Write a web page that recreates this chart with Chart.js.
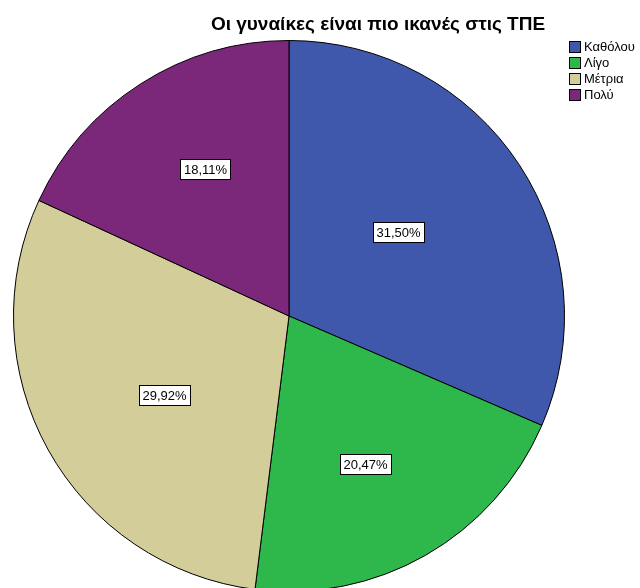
<!DOCTYPE html>
<html lang="el">
<head>
<meta charset="utf-8">
<title>Οι γυναίκες είναι πιο ικανές στις ΤΠΕ</title>
<script src="https://cdn.jsdelivr.net/npm/chart.js@4.4.1/dist/chart.umd.min.js"></script>
<style>
  html, body { margin: 0; padding: 0; background: #fff; overflow: hidden; }
  #wrap { position: absolute; left: 0; top: 0; width: 640px; height: 600px; }
</style>
</head>
<body>
<div id="wrap"><canvas id="pie" width="640" height="600"></canvas></div>
<script>
// answer categories and their share of respondents (%)
const categories = ['Καθόλου', 'Λίγο', 'Μέτρια', 'Πολύ'];
const percents = [31.50, 20.47, 29.92, 18.11];
const sliceColors = ['#3f58ab', '#2eb84c', '#d3ce99', '#7b287b'];
const chartTitle = 'Οι γυναίκες είναι πιο ικανές στις ΤΠΕ';

const FONT = '"Liberation Sans", Arial, sans-serif';

// boxed percentage labels inside each slice, SPSS style
const sliceLabels = {
  id: 'sliceLabels',
  afterDatasetsDraw(chart, args, opts) {
    const ctx = chart.ctx;
    const meta = chart.getDatasetMeta(0);
    ctx.save();
    ctx.font = '13px ' + FONT;
    ctx.textAlign = 'center';
    ctx.textBaseline = 'middle';
    meta.data.forEach((arc, i) => {
      const p = arc.getProps(['x', 'y', 'startAngle', 'endAngle', 'outerRadius'], true);
      const mid = (p.startAngle + p.endAngle) / 2 + opts.turn[i] * Math.PI / 180;
      const r = p.outerRadius * opts.radius[i];
      const x = Math.round(p.x + Math.cos(mid) * r);
      const y = Math.round(p.y + Math.sin(mid) * r);
      const text = percents[i].toFixed(2).replace('.', ',') + '%';
      const w = Math.ceil(ctx.measureText(text).width) + 6;
      const h = 20;
      const bx = Math.round(x - w / 2), by = Math.round(y - h / 2);
      ctx.fillStyle = '#fff';
      ctx.fillRect(bx, by, w, h);
      ctx.strokeStyle = '#000';
      ctx.lineWidth = 1;
      ctx.strokeRect(bx + 0.5, by + 0.5, w, h);
      ctx.fillStyle = '#000';
      ctx.fillText(text, x + 0.5, y + 1.5);
    });
    ctx.restore();
  }
};

// title and small square legend at the top right
const heading = {
  id: 'heading',
  afterDraw(chart) {
    const ctx = chart.ctx;
    ctx.save();
    ctx.fillStyle = '#000';
    ctx.font = 'bold 19px ' + FONT;
    ctx.textAlign = 'center';
    ctx.textBaseline = 'middle';
    ctx.fillText(chartTitle, 378, 25);

    ctx.font = '13px ' + FONT;
    ctx.textAlign = 'left';
    categories.forEach((name, i) => {
      const y = 42 + i * 16;
      ctx.fillStyle = sliceColors[i];
      ctx.fillRect(570, y, 10, 10);
      ctx.strokeStyle = '#000';
      ctx.lineWidth = 1;
      ctx.strokeRect(569.5, y - 0.5, 11, 11);
      ctx.fillStyle = '#000';
      ctx.fillText(name, 584, y + 5.5);
    });
    ctx.restore();
  }
};

new Chart(document.getElementById('pie'), {
  type: 'pie',
  data: {
    labels: categories,
    datasets: [{
      data: percents,
      backgroundColor: sliceColors,
      borderColor: '#000',
      borderWidth: 1,
      hoverOffset: 0
    }]
  },
  options: {
    responsive: false,
    animation: false,
    events: [],
    layout: { padding: { top: 40, left: 13, right: 75, bottom: 8 } },
    plugins: {
      legend: { display: false },
      title: { display: false },
      tooltip: { enabled: false },
      // label distance (share of radius) and angular nudge (deg) per slice
      sliceLabels: { radius: [0.5, 0.604, 0.536, 0.615], turn: [-4.1, 2.5, -3.2, 2.9] }
    }
  },
  plugins: [sliceLabels, heading]
});
</script>
</body>
</html>
